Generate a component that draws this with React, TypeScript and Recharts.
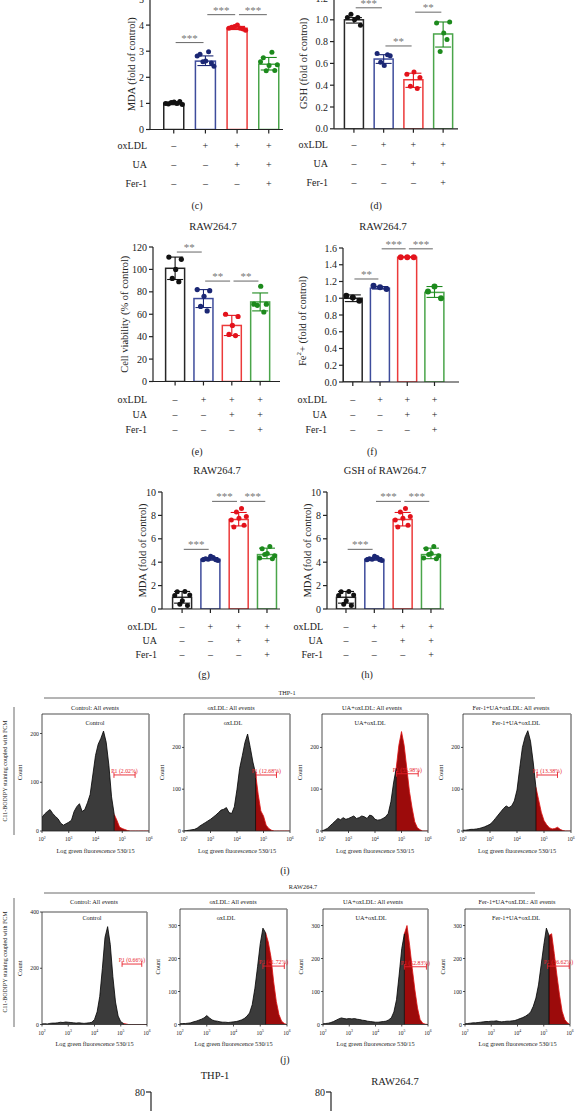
import React from 'react';
import {
  ComposedChart, AreaChart, BarChart, Area, Bar, Scatter, ErrorBar,
  XAxis, YAxis, ReferenceLine, Label,
} from 'recharts';

const FONT = '"Liberation Serif", "Times New Roman", serif';
const INK = '#222';

// treatment groups and the +/- table printed under each bar chart
const groupX = [1, 2, 3, 4];
const groupNames = ['Control', 'oxLDL', 'UA+oxLDL', 'Fer-1+UA+oxLDL'];
const rowNames = ['oxLDL', 'UA', 'Fer-1'];
const oxLDLSigns = ['–', '+', '+', '+'];
const uaSigns = ['–', '–', '+', '+'];
const fer1Signs = ['–', '–', '–', '+'];

const barStroke = ['#262626', '#3e4c9c', '#ec3a3a', '#4aa54a'];
const dotFill = ['#111111', '#1b2774', '#e3121b', '#1d8a1d'];

type Sig = [number, number, number, string];

// (c) MDA
const cMean = [1.0, 2.62, 3.88, 2.5];
const cErr = [[0.05, 0.05], [0.17, 0.2], [0.05, 0.07], [0.22, 0.26]];
const cPoints = [
  [1.0, 0.98, 1.03, 1.05, 1.0, 1.07, 0.96],
  [2.82, 2.88, 2.6, 2.62, 2.98, 2.55, 2.42],
  [3.88, 3.92, 3.95, 4.0, 3.88, 3.85, 3.8],
  [2.6, 2.75, 2.25, 2.45, 2.96, 2.26, 2.48],
];
const cSig: Sig[] = [[1, 2, 3.33, '***'], [2, 3, 4.4, '***'], [3, 4, 4.4, '***']];

// (d) GSH
const dMean = [1.0, 0.64, 0.45, 0.87];
const dErr = [[0.03, 0.02], [0.04, 0.04], [0.07, 0.06], [0.12, 0.11]];
const dPoints = [
  [1.02, 1.05, 1.0, 1.02, 0.95],
  [0.69, 0.61, 0.58, 0.68, 0.67],
  [0.5, 0.39, 0.52, 0.37, 0.47],
  [0.97, 0.71, 0.88, 0.82, 0.98],
];
const dSig: Sig[] = [[1, 2, 1.11, '***'], [2, 3, 0.76, '**'], [3, 4, 1.07, '**']];

// (e) cell viability
const eMean = [101, 74, 50, 71];
const eErr = [[10, 10], [8, 8], [9, 9], [8, 8]];
const ePoints = [
  [111, 92, 100, 89, 109],
  [82, 67, 76, 63, 81],
  [60, 42, 50, 41, 58],
  [69, 68, 85, 62, 69],
];
const eSig: Sig[] = [[1, 2, 115.5, '**'], [2, 3, 89.6, '**'], [3, 4, 89.6, '**']];

// (f) Fe2+
const fMean = [1.0, 1.12, 1.49, 1.07];
const fErr = [[0.04, 0.04], [0.01, 0.02], [0.005, 0.005], [0.06, 0.07]];
const fPoints = [
  [1.03, 1.01, 0.97],
  [1.15, 1.13, 1.11],
  [1.49, 1.49, 1.49],
  [1.08, 1.14, 1.0],
];
const fSig: Sig[] = [[1, 2, 1.23, '**'], [2, 3, 1.59, '***'], [3, 4, 1.59, '***']];

// (g) and (h) MDA, RAW264.7
const gMean = [1.0, 4.25, 7.65, 4.65];
const gErr = [[0.5, 0.5], [0.08, 0.15], [0.55, 0.6], [0.35, 0.55]];
const gPoints = [
  [1.15, 1.48, 0.4, 0.7, 1.5, 0.3, 1.2],
  [4.2, 4.3, 4.25, 4.5, 4.4, 4.2, 4.15],
  [7.6, 7.0, 8.3, 7.75, 8.6, 7.15, 7.9],
  [4.35, 5.15, 4.65, 4.75, 5.35, 4.3, 4.55],
];
const gSig: Sig[] = [[1, 2, 5.1, '***'], [2, 3, 9.2, '***'], [3, 4, 9.2, '***']];

// flow cytometry histograms: log10 fluorescence bins and counts
const logBins = [
  2.0, 2.1, 2.2, 2.3, 2.4, 2.5, 2.6, 2.7, 2.8, 2.9, 3.0, 3.1, 3.2, 3.3, 3.4, 3.5, 3.6, 3.7, 3.8, 3.9, 4.0,
  4.1, 4.2, 4.3, 4.4, 4.5, 4.6, 4.7, 4.8, 4.9, 5.0, 5.1, 5.2, 5.3, 5.4, 5.5, 5.6, 5.7, 5.8, 5.9, 6.0,
];
const thpControl = [28, 35, 40, 44, 36, 30, 25, 16, 12, 15, 18, 22, 40, 50, 56, 40, 44, 58, 75, 115, 155, 178, 190, 205, 182, 135, 70, 34, 22, 8, 5, 3, 1, 0, 0, 0, 0, 0, 0, 0, 0];
const thpOx = [0, 1, 2, 3, 4, 7, 12, 16, 20, 24, 28, 33, 38, 44, 50, 52, 56, 44, 42, 58, 100, 150, 180, 212, 232, 200, 165, 138, 88, 48, 36, 14, 6, 2, 0, 0, 0, 0, 0, 0, 0];
const thpUa = [0, 3, 6, 12, 18, 24, 30, 27, 32, 28, 30, 33, 36, 30, 32, 36, 34, 30, 38, 36, 28, 26, 27, 30, 34, 42, 70, 115, 150, 205, 238, 205, 150, 95, 55, 22, 8, 3, 0, 0, 0];
const thpFer = [2, 2, 3, 4, 4, 5, 6, 8, 10, 13, 16, 22, 30, 38, 46, 54, 60, 56, 60, 72, 98, 150, 200, 225, 240, 215, 165, 105, 75, 45, 25, 15, 8, 5, 6, 9, 4, 1, 0, 0, 0];
const rawControl = [2, 3, 2, 4, 5, 5, 6, 8, 7, 9, 8, 7, 6, 5, 6, 5, 4, 5, 6, 8, 18, 45, 100, 200, 310, 348, 285, 170, 80, 30, 10, 4, 2, 0, 0, 0, 0, 0, 0, 0, 0];
const rawOx = [2, 3, 3, 4, 5, 8, 10, 13, 16, 20, 27, 20, 14, 11, 10, 8, 7, 7, 6, 7, 8, 9, 11, 14, 18, 25, 35, 60, 110, 175, 245, 292, 278, 250, 205, 130, 70, 30, 10, 3, 0];
const rawUa = [2, 3, 4, 6, 9, 13, 17, 20, 18, 17, 18, 17, 18, 16, 15, 13, 12, 10, 9, 8, 7, 7, 8, 9, 10, 14, 20, 38, 75, 150, 230, 275, 300, 240, 170, 105, 50, 15, 4, 1, 0];
const rawFer = [2, 3, 4, 5, 5, 6, 7, 8, 9, 9, 10, 10, 11, 9, 8, 9, 10, 10, 11, 12, 15, 18, 21, 25, 30, 38, 55, 80, 120, 180, 240, 292, 270, 275, 215, 150, 90, 40, 15, 5, 1];

// P1 gates
const thpCut = [4.7, 4.7, 4.8, 4.7];
const thpGateA = [4.69, 4.72, 4.81, 4.74];
const thpGateB = [5.48, 5.49, 5.63, 5.5];
const thpGateY = [115, 134, 137, 134];
const thpPct = ['P1 (2.02%)', 'P1 (12.68%)', 'P1 (55.98%)', 'P1 (13.38%)'];
const rawCut = [5.1, 5.2, 5.1, 5.2];
const rawGateA = [5.05, 5.1, 5.1, 5.15];
const rawGateB = [5.8, 5.9, 5.94, 5.97];
const rawGateY = [215, 177, 175, 177];
const rawPct = ['P1 (0.66%)', 'P1 (41.72%)', 'P1 (52.83%)', 'P1 (36.62%)'];

const jitter: Record<number, number[]> = {
  3: [-0.24, 0, 0.24],
  5: [-0.22, -0.1, 0.02, 0.13, 0.22],
  7: [-0.26, -0.17, -0.08, 0.01, 0.1, 0.19, 0.27],
};

const yTitle = (text: React.ReactNode, gap: number, size: number, shift = 0) => (lp: any) => {
  const vb = lp.viewBox;
  const cx = vb.x + vb.width - gap;
  const cy = vb.y + vb.height / 2 + shift;
  return (
    <text transform={`translate(${cx},${cy}) rotate(-90)`} textAnchor="middle" dominantBaseline="central"
      fontSize={size} fill={INK} fontFamily={FONT}>{text}</text>
  );
};

type BarPanelProps = {
  x0: number; x1: number; yTop: number; yBot: number;
  xDomain: [number, number]; yMax: number; yTicks: number[]; digits: number;
  mean: number[]; err: number[][]; points: number[][]; sig: Sig[];
  yLabel: React.ReactNode; labelGap: number; labelShift?: number; rowGap: number; rows: number[];
  barSize: number; dotR: number;
};

const PW = 56, PT = 26, PR = 8, PX = 64;

function BarPanel(p: BarPanelProps) {
  const data = groupX.map((x, i) => ({ x, mean: p.mean[i] }));
  const ppu = (p.x1 - p.x0) / (p.xDomain[1] - p.xDomain[0]);
  const signs = [oxLDLSigns, uaSigns, fer1Signs];

  const SignTick = (t: any) => {
    const i = groupX.indexOf(t.payload.value);
    const axisY = t.y - 4;
    const right = t.x - (groupX[0] - p.xDomain[0]) * ppu - p.rowGap;
    return (
      <g fontFamily={FONT} fontSize={10} fill={INK}>
        {signs.map((row, r) => (
          <text key={r} x={t.x} y={axisY + p.rows[r]} textAnchor="middle" dominantBaseline="central">{row[i]}</text>
        ))}
        {i === 0 && rowNames.map((name, r) => (
          <text key={'n' + r} x={right} y={axisY + p.rows[r]} textAnchor="end" dominantBaseline="central">{name}</text>
        ))}
      </g>
    );
  };

  // open bar, centred on the slot that recharts gives on the numeric axis
  const OpenBar = (s: any) => (
    <rect x={s.x + s.width / 2 - p.barSize / 2} y={s.y} width={p.barSize} height={s.height}
      fill="#fff" stroke={barStroke[s.index]} strokeWidth={1.5} />
  );

  return (
    <div style={{ position: 'absolute', left: p.x0 - PW, top: p.yTop - PT }}>
      <ComposedChart width={p.x1 - p.x0 + PW + PR} height={p.yBot - p.yTop + PT + PX} data={data}
        margin={{ top: PT, right: PR, bottom: 0, left: 0 }}>
        <XAxis type="number" dataKey="x" domain={p.xDomain} ticks={groupX} allowDataOverflow interval={0}
          height={PX} tickSize={4} tickMargin={0} tick={SignTick}
          axisLine={{ stroke: INK, strokeWidth: 1.2 }} tickLine={{ stroke: INK, strokeWidth: 1.2 }} />
        <YAxis type="number" domain={[0, p.yMax]} ticks={p.yTicks} allowDataOverflow interval={0} width={PW}
          tickSize={4} tickMargin={2} tickFormatter={(v: number) => v.toFixed(p.digits)}
          tick={{ fontSize: 10, fill: INK, fontFamily: FONT }}
          axisLine={{ stroke: INK, strokeWidth: 1.2 }} tickLine={{ stroke: INK, strokeWidth: 1.2 }}>
          <Label content={yTitle(p.yLabel, p.labelGap, 10.5, p.labelShift ?? 0)} />
        </YAxis>
        <Bar dataKey="mean" isAnimationActive={false} shape={OpenBar} />
        {groupX.map((g, i) => (
          <Scatter key={'e' + i} data={[{ x: g, y: p.mean[i], err: p.err[i] }]} dataKey="y"
            isAnimationActive={false} shape={() => <g />}>
            <ErrorBar dataKey="err" direction="y" width={8} stroke={dotFill[i]} strokeWidth={1.1} />
          </Scatter>
        ))}
        {groupX.map((g, i) => (
          <Scatter key={'p' + i} dataKey="y" isAnimationActive={false}
            data={p.points[i].map((v, k) => ({ x: g + jitter[p.points[i].length][k], y: v }))}
            shape={(s: any) => <circle cx={s.cx} cy={s.cy} r={p.dotR} fill={dotFill[i]} />} />
        ))}
        {p.sig.map(([a, b, y, txt], k) => (
          <ReferenceLine key={'s' + k} segment={[{ x: a + 0.06, y }, { x: b - 0.06, y }]} ifOverflow="visible"
            stroke="#666" strokeWidth={1}
            label={{ value: txt, position: 'top', offset: 1, fill: '#777', fontSize: 11, fontFamily: FONT }} />
        ))}
      </ComposedChart>
    </div>
  );
}

const PowTick = (t: any) => (
  <text x={t.x} y={t.y + 8} textAnchor="middle" fontSize={5.5} fill={INK} fontFamily={FONT}>
    10<tspan dy={-2.5} fontSize={3.8}>{t.payload.value}</tspan>
  </text>
);

type FlowProps = {
  L: number; R: number; T: number; B: number; yMax: number; yTicks: number[];
  counts: number[]; cut: number; gate: [number, number, number]; pct: string;
};

const FW = 30, FT = 4, FR = 14, FX = 24;

function FlowPanel(p: FlowProps) {
  const rows = logBins.map((x, i) => ({
    x,
    black: x <= p.cut + 1e-6 ? p.counts[i] : null,
    red: x >= p.cut - 1e-6 ? p.counts[i] : null,
  }));
  const cutCount = p.counts[logBins.findIndex((x) => Math.abs(x - p.cut) < 1e-6)];
  const cap = p.yMax * 0.025;
  const [ga, gb, gy] = p.gate;
  return (
    <div style={{ position: 'absolute', left: p.L - FW, top: p.T - FT }}>
      <AreaChart width={p.R - p.L + FW + FR} height={p.B - p.T + FT + FX} data={rows}
        margin={{ top: FT, right: FR, bottom: 0, left: 0 }}>
        <XAxis type="number" dataKey="x" domain={[2, 6]} ticks={[2, 3, 4, 5, 6]} allowDataOverflow interval={0}
          height={FX} tickSize={2} tickMargin={0} tick={PowTick}
          axisLine={{ stroke: INK, strokeWidth: 0.8 }} tickLine={{ stroke: INK, strokeWidth: 0.8 }}>
          <Label content={(lp: any) => (
            <text x={lp.viewBox.x + lp.viewBox.width / 2} y={lp.viewBox.y + 19} textAnchor="middle"
              dominantBaseline="central" fontSize={6.3} fill={INK} fontFamily={FONT}>Log green fluorescence 530/15</text>
          )} />
        </XAxis>
        <YAxis type="number" domain={[0, p.yMax]} ticks={p.yTicks} allowDataOverflow interval={0} width={FW}
          tickSize={2} tickMargin={1} tick={{ fontSize: 5.8, fill: INK, fontFamily: FONT }}
          axisLine={{ stroke: INK, strokeWidth: 0.8 }} tickLine={{ stroke: INK, strokeWidth: 0.8 }}>
          <Label content={yTitle('Count', 23, 6.3)} />
        </YAxis>
        <Area type="linear" dataKey="black" stroke="#000" strokeWidth={0.8} fill="#3b3b3b" fillOpacity={1}
          isAnimationActive={false} dot={false} activeDot={false} />
        <Area type="linear" dataKey="red" stroke="#e01010" strokeWidth={0.8} fill="#9c0b0b" fillOpacity={1}
          isAnimationActive={false} dot={false} activeDot={false} />
        <ReferenceLine segment={[{ x: p.cut, y: 0 }, { x: p.cut, y: cutCount }]} stroke="#000" strokeWidth={0.8} />
        <ReferenceLine y={p.yMax} stroke="#8a8a8a" strokeWidth={1.6} />
        <ReferenceLine x={6} stroke="#8a8a8a" strokeWidth={1.6} />
        <ReferenceLine segment={[{ x: ga, y: gy }, { x: gb, y: gy }]} stroke="#e8202a" strokeWidth={0.9}
          label={{ value: p.pct, position: 'top', offset: 2, fill: '#e8202a', fontSize: 5.8, fontFamily: FONT }} />
        <ReferenceLine segment={[{ x: ga, y: gy - cap }, { x: ga, y: gy + cap }]} stroke="#e8202a" strokeWidth={0.9} />
        <ReferenceLine segment={[{ x: gb, y: gy - cap }, { x: gb, y: gy + cap }]} stroke="#e8202a" strokeWidth={0.9} />
      </AreaChart>
    </div>
  );
}

// top of the next figure row: only the start of its y axis is inside the picture
function StubPanel({ x0, yTop }: { x0: number; yTop: number }) {
  const data = groupNames.map((name) => ({ name }));
  return (
    <div style={{ position: 'absolute', left: x0 - 40, top: yTop - 10 }}>
      <BarChart width={170} height={170} data={data} margin={{ top: 10, right: 10, bottom: 0, left: 0 }}>
        <XAxis dataKey="name" hide />
        <YAxis type="number" domain={[0, 80]} ticks={[80]} width={40} tickSize={5} tickMargin={1}
          interval={0} tick={{ fontSize: 10, fill: INK, fontFamily: FONT }}
          axisLine={{ stroke: INK, strokeWidth: 1.2 }} tickLine={{ stroke: INK, strokeWidth: 1.2 }} />
        <ReferenceLine y={0} stroke="none" ifOverflow="extendDomain" />
        <ReferenceLine y={80} stroke="none" ifOverflow="extendDomain" />
        <Bar dataKey="value" isAnimationActive={false} />
      </BarChart>
    </div>
  );
}

const Txt = ({ x, y, s = 10, c = INK, children }: any) => (
  <text x={x} y={y} fontSize={s} textAnchor="middle" dominantBaseline="central" fill={c} fontFamily={FONT}>{children}</text>
);

function Overlay() {
  const thpTitleX = [95, 231, 372, 511];
  const thpInnerX = [95, 233, 370, 516];
  const rawTitleX = [94, 233, 373, 517];
  const rawInnerX = [92, 226, 371, 516];
  return (
    <svg width={576} height={1111} style={{ position: 'absolute', left: 0, top: 0 }}>
      <Txt x={197} y={205}>(c)</Txt>
      <Txt x={376} y={205}>(d)</Txt>
      <Txt x={213} y={226} s={10.5}>RAW264.7</Txt>
      <Txt x={383} y={226} s={10.5}>RAW264.7</Txt>
      <Txt x={197} y={451}>(e)</Txt>
      <Txt x={372} y={451}>(f)</Txt>
      <Txt x={217} y={470} s={10.5}>RAW264.7</Txt>
      <Txt x={385} y={470} s={10.5}>GSH of RAW264.7</Txt>
      <Txt x={204} y={674}>(g)</Txt>
      <Txt x={367} y={674}>(h)</Txt>

      <Txt x={287} y={692} s={6.3}>THP-1</Txt>
      <line x1={44} x2={535} y1={698} y2={698} stroke="#444" strokeWidth={0.8} />
      <line x1={14} x2={14} y1={707} y2={835} stroke="#444" strokeWidth={0.8} />
      <text transform="translate(5,771) rotate(-90)" textAnchor="middle" dominantBaseline="central" fontSize={6}
        fill={INK} fontFamily={FONT}>C11-BODIPY staining coupled with FCM</text>
      {groupNames.map((g, i) => <Txt key={'ti' + i} x={thpTitleX[i]} y={707} s={6.3}>{g}: All events</Txt>)}
      {groupNames.map((g, i) => <Txt key={'ii' + i} x={thpInnerX[i]} y={722} s={6.3}>{g}</Txt>)}
      <Txt x={285} y={870}>(i)</Txt>

      <Txt x={303} y={886} s={6.3}>RAW264.7</Txt>
      <line x1={44} x2={535} y1={893} y2={893} stroke="#444" strokeWidth={0.8} />
      <line x1={14} x2={14} y1={898} y2={1027} stroke="#444" strokeWidth={0.8} />
      <text transform="translate(5,962) rotate(-90)" textAnchor="middle" dominantBaseline="central" fontSize={6}
        fill={INK} fontFamily={FONT}>C11-BODIPY staining coupled with FCM</text>
      {groupNames.map((g, i) => <Txt key={'tj' + i} x={rawTitleX[i]} y={901} s={6.3}>{g}: All events</Txt>)}
      {groupNames.map((g, i) => <Txt key={'ij' + i} x={rawInnerX[i]} y={917} s={6.3}>{g}</Txt>)}
      <Txt x={285} y={1059}>(j)</Txt>

      <Txt x={215} y={1075} s={10.5}>THP-1</Txt>
      <Txt x={395} y={1081} s={10.5}>RAW264.7</Txt>
    </svg>
  );
}

const thpCounts = [thpControl, thpOx, thpUa, thpFer];
const rawCounts = [rawControl, rawOx, rawUa, rawFer];
const thpLeft = [42, 184, 322, 463];
const thpRight = [149, 290, 428, 571];
const thpYMax = [240, 280, 280, 280];
const rawLeft = [42, 180, 323, 465];
const rawRight = [147, 287, 428, 570];
const rawTop = [912, 909, 909, 909];
const rawYMax = [400, 350, 350, 350];

export default function App() {
  const fe = (
    <>Fe<tspan dy={-3.5} fontSize={7}>2</tspan><tspan dy={3.5}>+ (fold of control)</tspan></>
  );
  return (
    <div style={{ position: 'absolute', left: 0, top: 0, width: 576, height: 1111, overflow: 'hidden', background: '#fff', fontFamily: FONT }}>
      <Overlay />
      <BarPanel x0={150} x1={283} yTop={-1.5} yBot={129} xDomain={[0.25, 4.45]} yMax={5} yTicks={[0, 1, 2, 3, 4, 5]}
        digits={0} mean={cMean} err={cErr} points={cPoints} sig={cSig} yLabel="MDA (fold of control)"
        labelGap={19} rowGap={3} rows={[16, 35, 54]} barSize={20} dotR={2.5} />
      <BarPanel x0={334} x1={458} yTop={-1.8} yBot={129} xDomain={[0.33, 4.5]} yMax={1.2}
        yTicks={[0, 0.2, 0.4, 0.6, 0.8, 1.0, 1.2]} digits={1} mean={dMean} err={dErr} points={dPoints} sig={dSig}
        yLabel="GSH (fold of control)" labelGap={31} rowGap={6} rows={[16, 35, 54]} barSize={19} dotR={2.5} />
      <BarPanel x0={153} x1={280} yTop={247} yBot={381.5} xDomain={[0.22, 4.7]} yMax={120}
        yTicks={[0, 20, 40, 60, 80, 100, 120]} digits={0} mean={eMean} err={eErr} points={ePoints} sig={eSig}
        yLabel="Cell viability (% of control)" labelGap={29} rowGap={6} rows={[17.5, 32.5, 47.5]} barSize={19} dotR={2.6} />
      <BarPanel x0={343} x1={459} yTop={248} yBot={382} xDomain={[0.64, 4.9]} yMax={1.6}
        yTicks={[0, 0.2, 0.4, 0.6, 0.8, 1.0, 1.2, 1.4, 1.6]} digits={1} mean={fMean} err={fErr} points={fPoints}
        sig={fSig} yLabel={fe} labelGap={41} labelShift={6} rowGap={16} rows={[17.5, 32.5, 47.5]} barSize={19} dotR={3} />
      <BarPanel x0={162} x1={280} yTop={492} yBot={609} xDomain={[0.29, 4.46]} yMax={10}
        yTicks={[0, 2, 4, 6, 8, 10]} digits={0} mean={gMean} err={gErr} points={gPoints} sig={gSig}
        yLabel="MDA (fold of control)" labelGap={20} rowGap={5} rows={[17, 31, 45]} barSize={19} dotR={2.5} />
      <BarPanel x0={327} x1={444} yTop={492} yBot={609} xDomain={[0.33, 4.46]} yMax={10}
        yTicks={[0, 2, 4, 6, 8, 10]} digits={0} mean={gMean} err={gErr} points={gPoints} sig={gSig}
        yLabel="MDA (fold of control)" labelGap={20} rowGap={4} rows={[17, 31, 45]} barSize={19} dotR={2.5} />
      {thpCounts.map((counts, i) => (
        <FlowPanel key={'thp' + i} L={thpLeft[i]} R={thpRight[i]} T={714} B={831} yMax={thpYMax[i]}
          yTicks={[0, 100, 200]} counts={counts} cut={thpCut[i]}
          gate={[thpGateA[i], thpGateB[i], thpGateY[i]]} pct={thpPct[i]} />
      ))}
      {rawCounts.map((counts, i) => (
        <FlowPanel key={'raw' + i} L={rawLeft[i]} R={rawRight[i]} T={rawTop[i]} B={1024.5} yMax={rawYMax[i]}
          yTicks={i === 0 ? [0, 200, 400] : [0, 100, 200, 300]} counts={counts} cut={rawCut[i]}
          gate={[rawGateA[i], rawGateB[i], rawGateY[i]]} pct={rawPct[i]} />
      ))}
      <StubPanel x0={151} yTop={1092} />
      <StubPanel x0={331} yTop={1092} />
    </div>
  );
}
